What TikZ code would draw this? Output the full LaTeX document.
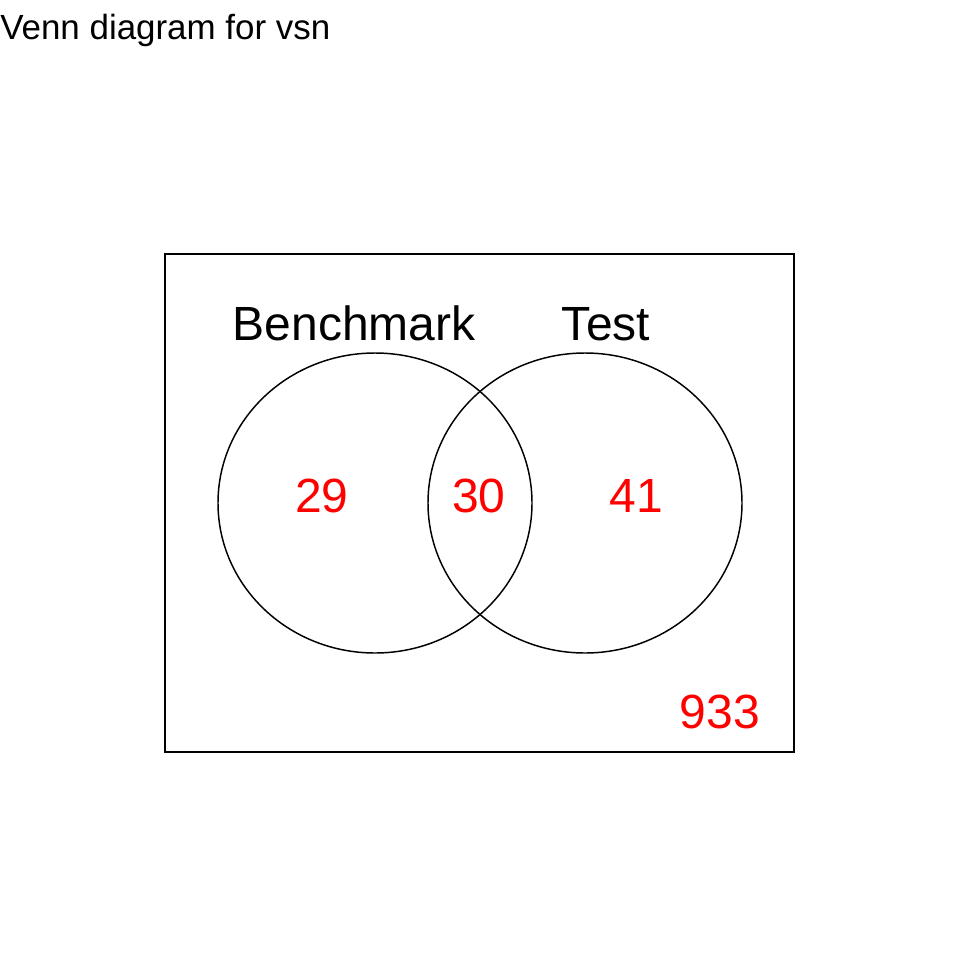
\documentclass[tikz,border=0pt]{standalone}
\usepackage{fontspec}
\setmainfont{Liberation Sans}
\begin{document}
\begin{tikzpicture}[x=0.75pt,y=-0.75pt,
  line/.style={draw=black,line width=1.1pt},
  setlabel/.style={font=\fontsize{36}{40}\selectfont,anchor=base,inner sep=0pt},
  count/.style={font=\fontsize{36}{40}\selectfont,text=red,anchor=base,inner sep=0pt}]
\useasboundingbox (0,0) rectangle (960,960);
\node[anchor=base west,inner sep=0pt,font=\fontsize{26.2}{30}\selectfont] (title) at (0,39) {Venn diagram for vsn};
\draw[line] (165,254) rectangle (794,752);
\draw[line] (375,503) ellipse [x radius=157, y radius=150];
\draw[line] (585,503) ellipse [x radius=157, y radius=150];
\node[setlabel] (bench) at (354,340) {Benchmark};
\node[setlabel] (test) at (606,340) {Test};
\node[count] (a) at (322,512) {29};
\node[count] (ab) at (479,512) {30};
\node[count] (b) at (636,512) {41};
\node[count] (none) at (720,728) {933};
\end{tikzpicture}
\end{document}
